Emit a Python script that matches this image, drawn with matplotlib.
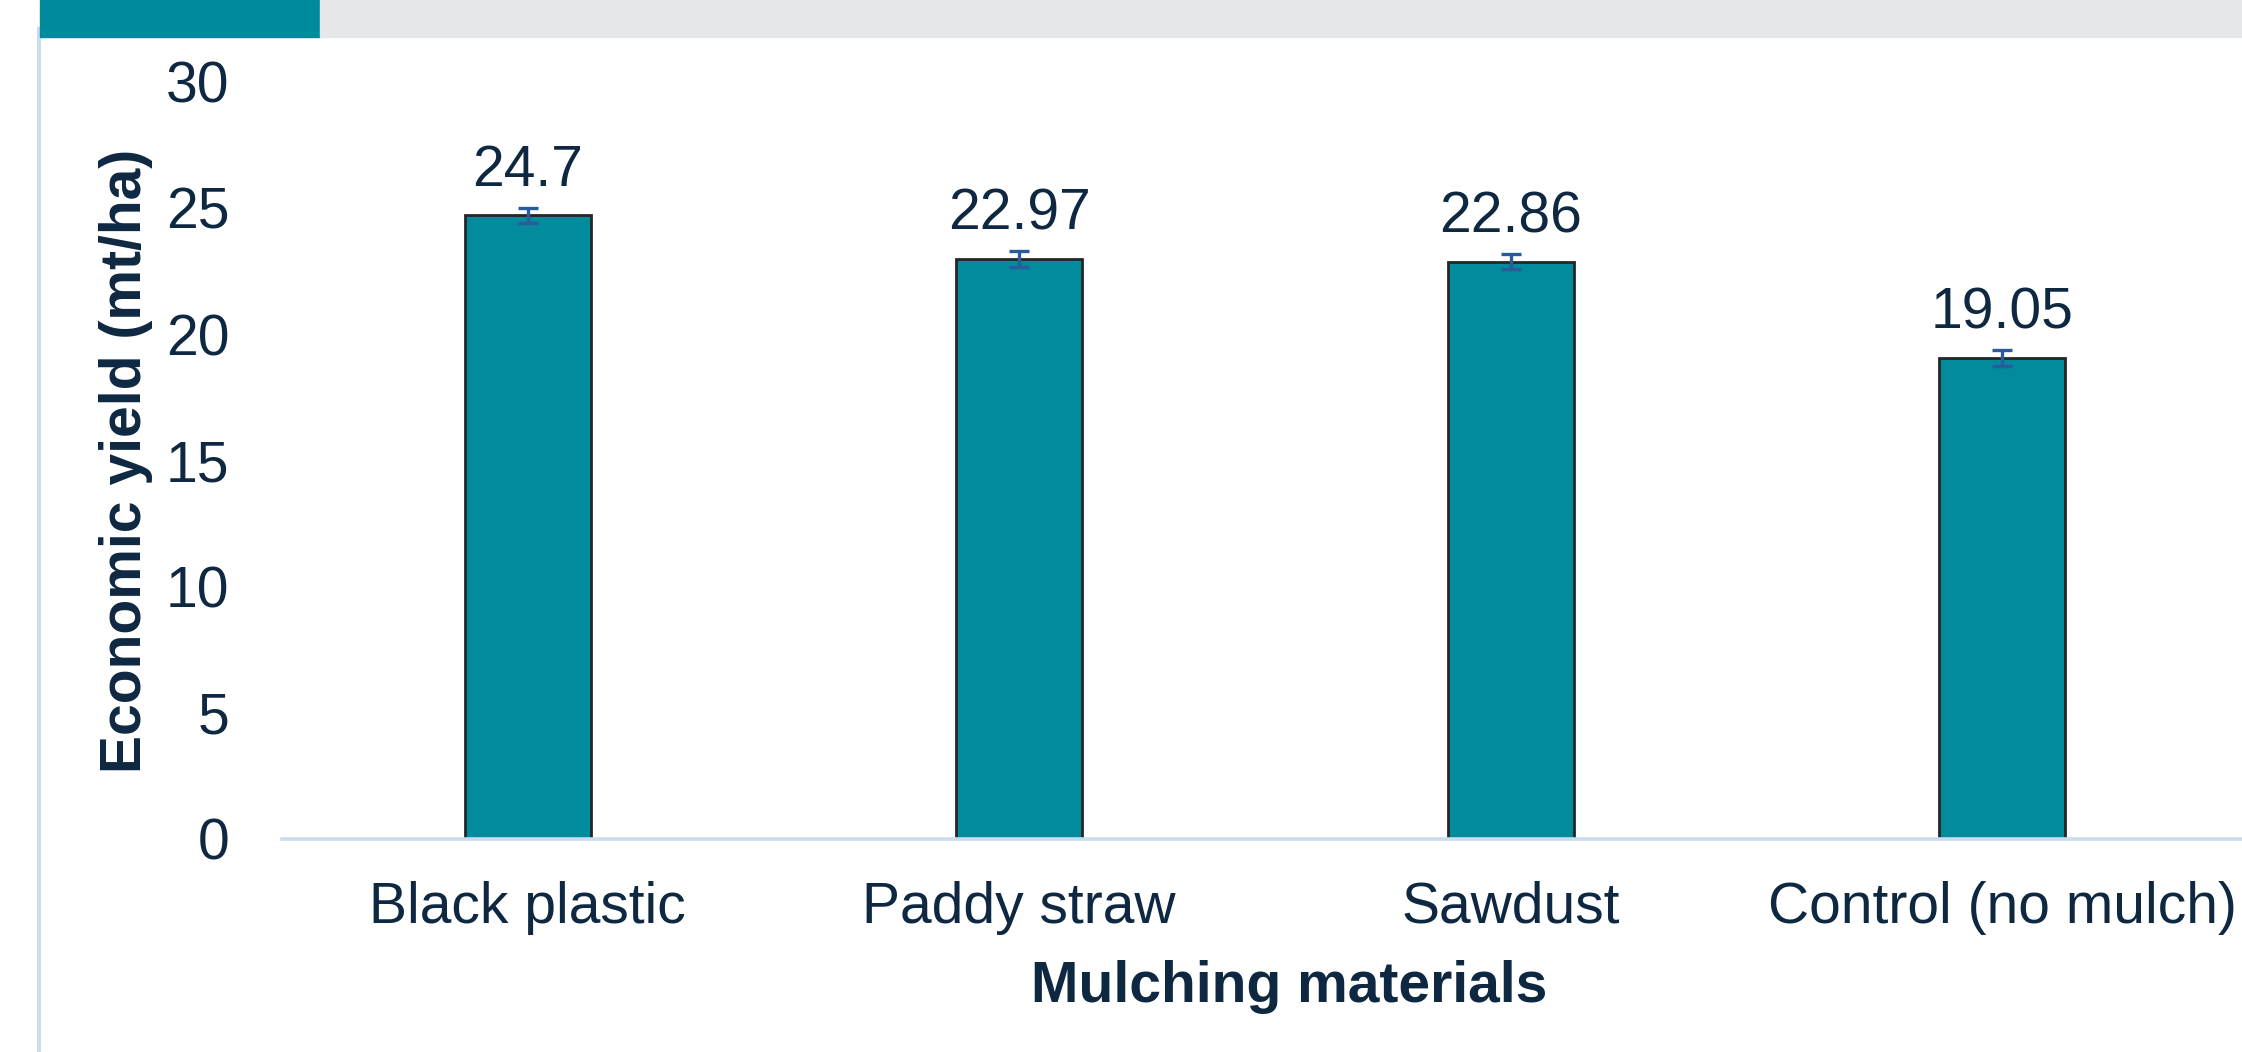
## bar chart of economic yield for mulching materials
from matplotlib import pyplot as plt
from matplotlib.patches import Rectangle
from matplotlib.lines import Line2D

materials = ["Black plastic", "Paddy straw", "Sawdust", "Control (no mulch)"]
yield_vals = [24.7, 22.97, 22.86, 19.05]
yield_err = [0.3, 0.3, 0.3, 0.3]
value_labels = ["24.7", "22.97", "22.86", "19.05"]
yticks = [0, 5, 10, 15, 20, 25, 30]

text_col = "#0e2841"
bar_col = "#028a9d"
line_col = "#c9ddf1"

plt.rcParams['font.family'] = ['Liberation Sans', 'DejaVu Sans']

W, H = 2242, 1052
fig = plt.figure(figsize=(W / 100, H / 100), dpi=100)

# header band and left rule
fig.patches.append(Rectangle((40 / W, 1 - 37 / H), 280 / W, 37 / H,
                             transform=fig.transFigure, color="#008a9e", zorder=0))
fig.patches.append(Rectangle((320 / W, 1 - 37 / H), 1 - 320 / W, 37 / H,
                             transform=fig.transFigure, color="#e6e7e9", zorder=0))
fig.lines.append(Line2D([39 / W, 39 / W], [0, 1 - 29 / H], transform=fig.transFigure,
                        color=line_col, lw=3, zorder=-1))

ax = fig.add_axes([282 / W, 1 - 839 / H, 1966 / W, 757.5 / H])
x = range(len(materials))
ax.bar(x, yield_vals, width=0.256, color=bar_col, edgecolor="#262626", linewidth=2.0,
       yerr=yield_err, error_kw=dict(ecolor="#2a5c9a", elinewidth=2.4, capsize=7, capthick=2.4))

for i, lab in enumerate(value_labels):
    ax.annotate(lab, (i, yield_vals[i]), xytext=(0, 21), textcoords="offset points",
                ha="center", va="baseline", fontsize=41, color=text_col)

ax.set_xlim(-0.5, 3.5)
ax.set_ylim(0, 30)
ax.set_yticks(yticks)
ax.set_xticks(list(x))
ax.set_xticklabels(materials)
ax.tick_params(axis="both", length=0, labelsize=41, labelcolor=text_col)
ax.tick_params(axis="y", pad=38)
ax.tick_params(axis="x", pad=30)
for s in ["top", "right", "left"]:
    ax.spines[s].set_visible(False)
ax.spines["bottom"].set_color(line_col)
ax.spines["bottom"].set_linewidth(2.6)

fig.text(126 / W, 1 - 461 / H, "Economic yield (mt/ha)", rotation=90, ha="center", va="center",
         fontsize=41, fontweight="bold", color=text_col)
fig.text(1289 / W, 1 - 987 / H, "Mulching materials", ha="center", va="center",
         fontsize=41, fontweight="bold", color=text_col)

fig.savefig("out.png", dpi=100)
